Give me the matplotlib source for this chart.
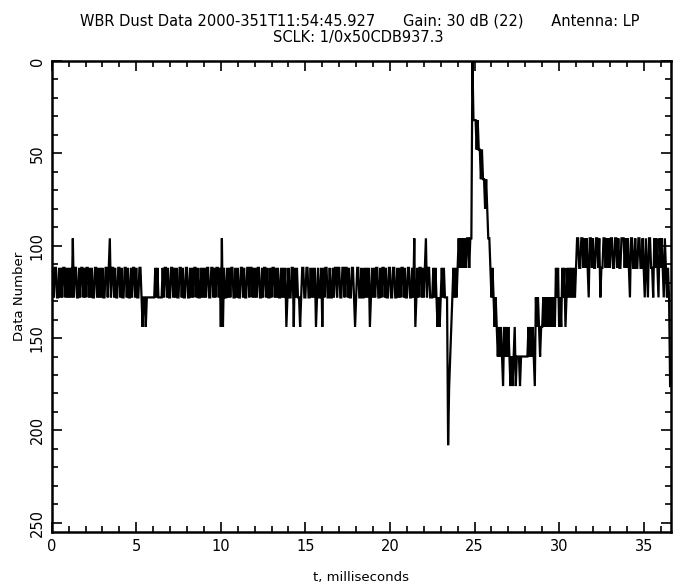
import numpy as np
import matplotlib
matplotlib.use("Agg")
import matplotlib.pyplot as plt
from matplotlib.ticker import MultipleLocator

# WBR dust-impact waveform, one character per sample.
# Each character is a quantized level code; LEVELS maps it to the data number.
SAMPLE_PERIOD_MS = 0.0625
LEVELS = {"0": 0, "2": 32, "3": 48, "4": 64, "5": 80, "6": 96, "7": 112,
          "8": 128, "9": 144, "a": 160, "b": 176, "c": 192, "d": 208}

# samples grouped per millisecond (16 samples each)
SAMPLES_BY_MS = [
    "8787788787877878",  # 0 ms
    "7878687788787787",  # 1
    "8778787887787878",  # 2
    "7887787687787887",  # 3
    "7878877878878778",  # 4
    "7887789889888888",  # 5
    "8878788887877878",  # 6
    "8778787887787887",  # 7
    "7887878778788787",  # 8
    "8787788778787787",  # 9
    "9697887878778878",  # 10
    "7887787887787787",  # 11
    "8787788787787887",  # 12
    "8778787887878798",  # 13
    "7887797878898778",  # 14
    "8778878787987887",  # 15
    "9787788788787787",  # 16
    "7887787787887789",  # 17
    "8778878878787987",  # 18
    "8787788787787887",  # 19
    "7887788787877878",  # 20
    "8778878698787787",  # 21
    "8768778887878989",  # 22
    "8787888dba987878",  # 23
    "7676767676676602",  # 24
    "2232334344545667",  # 25
    "878989a9a9ab9a9a",  # 26
    "9ababa9baaabaaaa",  # 27
    "aaa9a9a9ab8989a9",  # 28
    "9898989898989787",  # 29
    "9897879878787878",  # 30
    "7667766767678667",  # 31
    "6776676877667676",  # 32
    "7667766767766676",  # 33
    "7678667767766776",  # 34
    "7867866778676786",  # 35
    "767867878b",        # 36
]

X_MAX_MS = 36.6
Y_MAX = 255

TITLE_LINE1 = ("WBR Dust Data 2000-351T11:54:45.927      "
               "Gain: 30 dB (22)      Antenna: LP")
TITLE_LINE2 = "SCLK: 1/0x50CDB937.3"
X_LABEL = "t, milliseconds"
Y_LABEL = "Data Number"

codes = "".join(SAMPLES_BY_MS)
values = np.array([LEVELS[c] for c in codes], dtype=float)
t_ms = np.arange(values.size) * SAMPLE_PERIOD_MS

plt.rcParams["font.family"] = ["DejaVu Sans"]

fig = plt.figure(figsize=(6.9, 5.86), dpi=100)
ax = fig.add_axes([0.0749, 0.0922, 0.8972, 0.8037])

ax.plot(t_ms, values, color="black", linewidth=1.6, solid_joinstyle="miter")

ax.set_xlim(0, X_MAX_MS)
ax.set_ylim(Y_MAX, 0)

ax.xaxis.set_major_locator(MultipleLocator(5))
ax.xaxis.set_minor_locator(MultipleLocator(1))
ax.yaxis.set_major_locator(MultipleLocator(50))
ax.yaxis.set_minor_locator(MultipleLocator(10))

ax.tick_params(which="both", direction="in", top=True, right=True,
               width=1.2, colors="black", labelsize=10.5)
ax.tick_params(which="major", length=7)
ax.tick_params(which="minor", length=4)
ax.tick_params(axis="x", pad=5)
ax.tick_params(axis="y", pad=5)
for lab in ax.get_yticklabels():
    lab.set_rotation(90)
    lab.set_va("center")

for sp in ax.spines.values():
    sp.set_linewidth(1.8)

ax.set_xlabel(X_LABEL, fontsize=9.5, labelpad=12)
ax.set_ylabel(Y_LABEL, fontsize=9.5, labelpad=3)

fig.text(0.521, 0.965, TITLE_LINE1, ha="center", va="center", fontsize=10.5)
fig.text(0.519, 0.936, TITLE_LINE2, ha="center", va="center", fontsize=10.5)

fig.savefig("out.png", dpi=100, facecolor="white")
